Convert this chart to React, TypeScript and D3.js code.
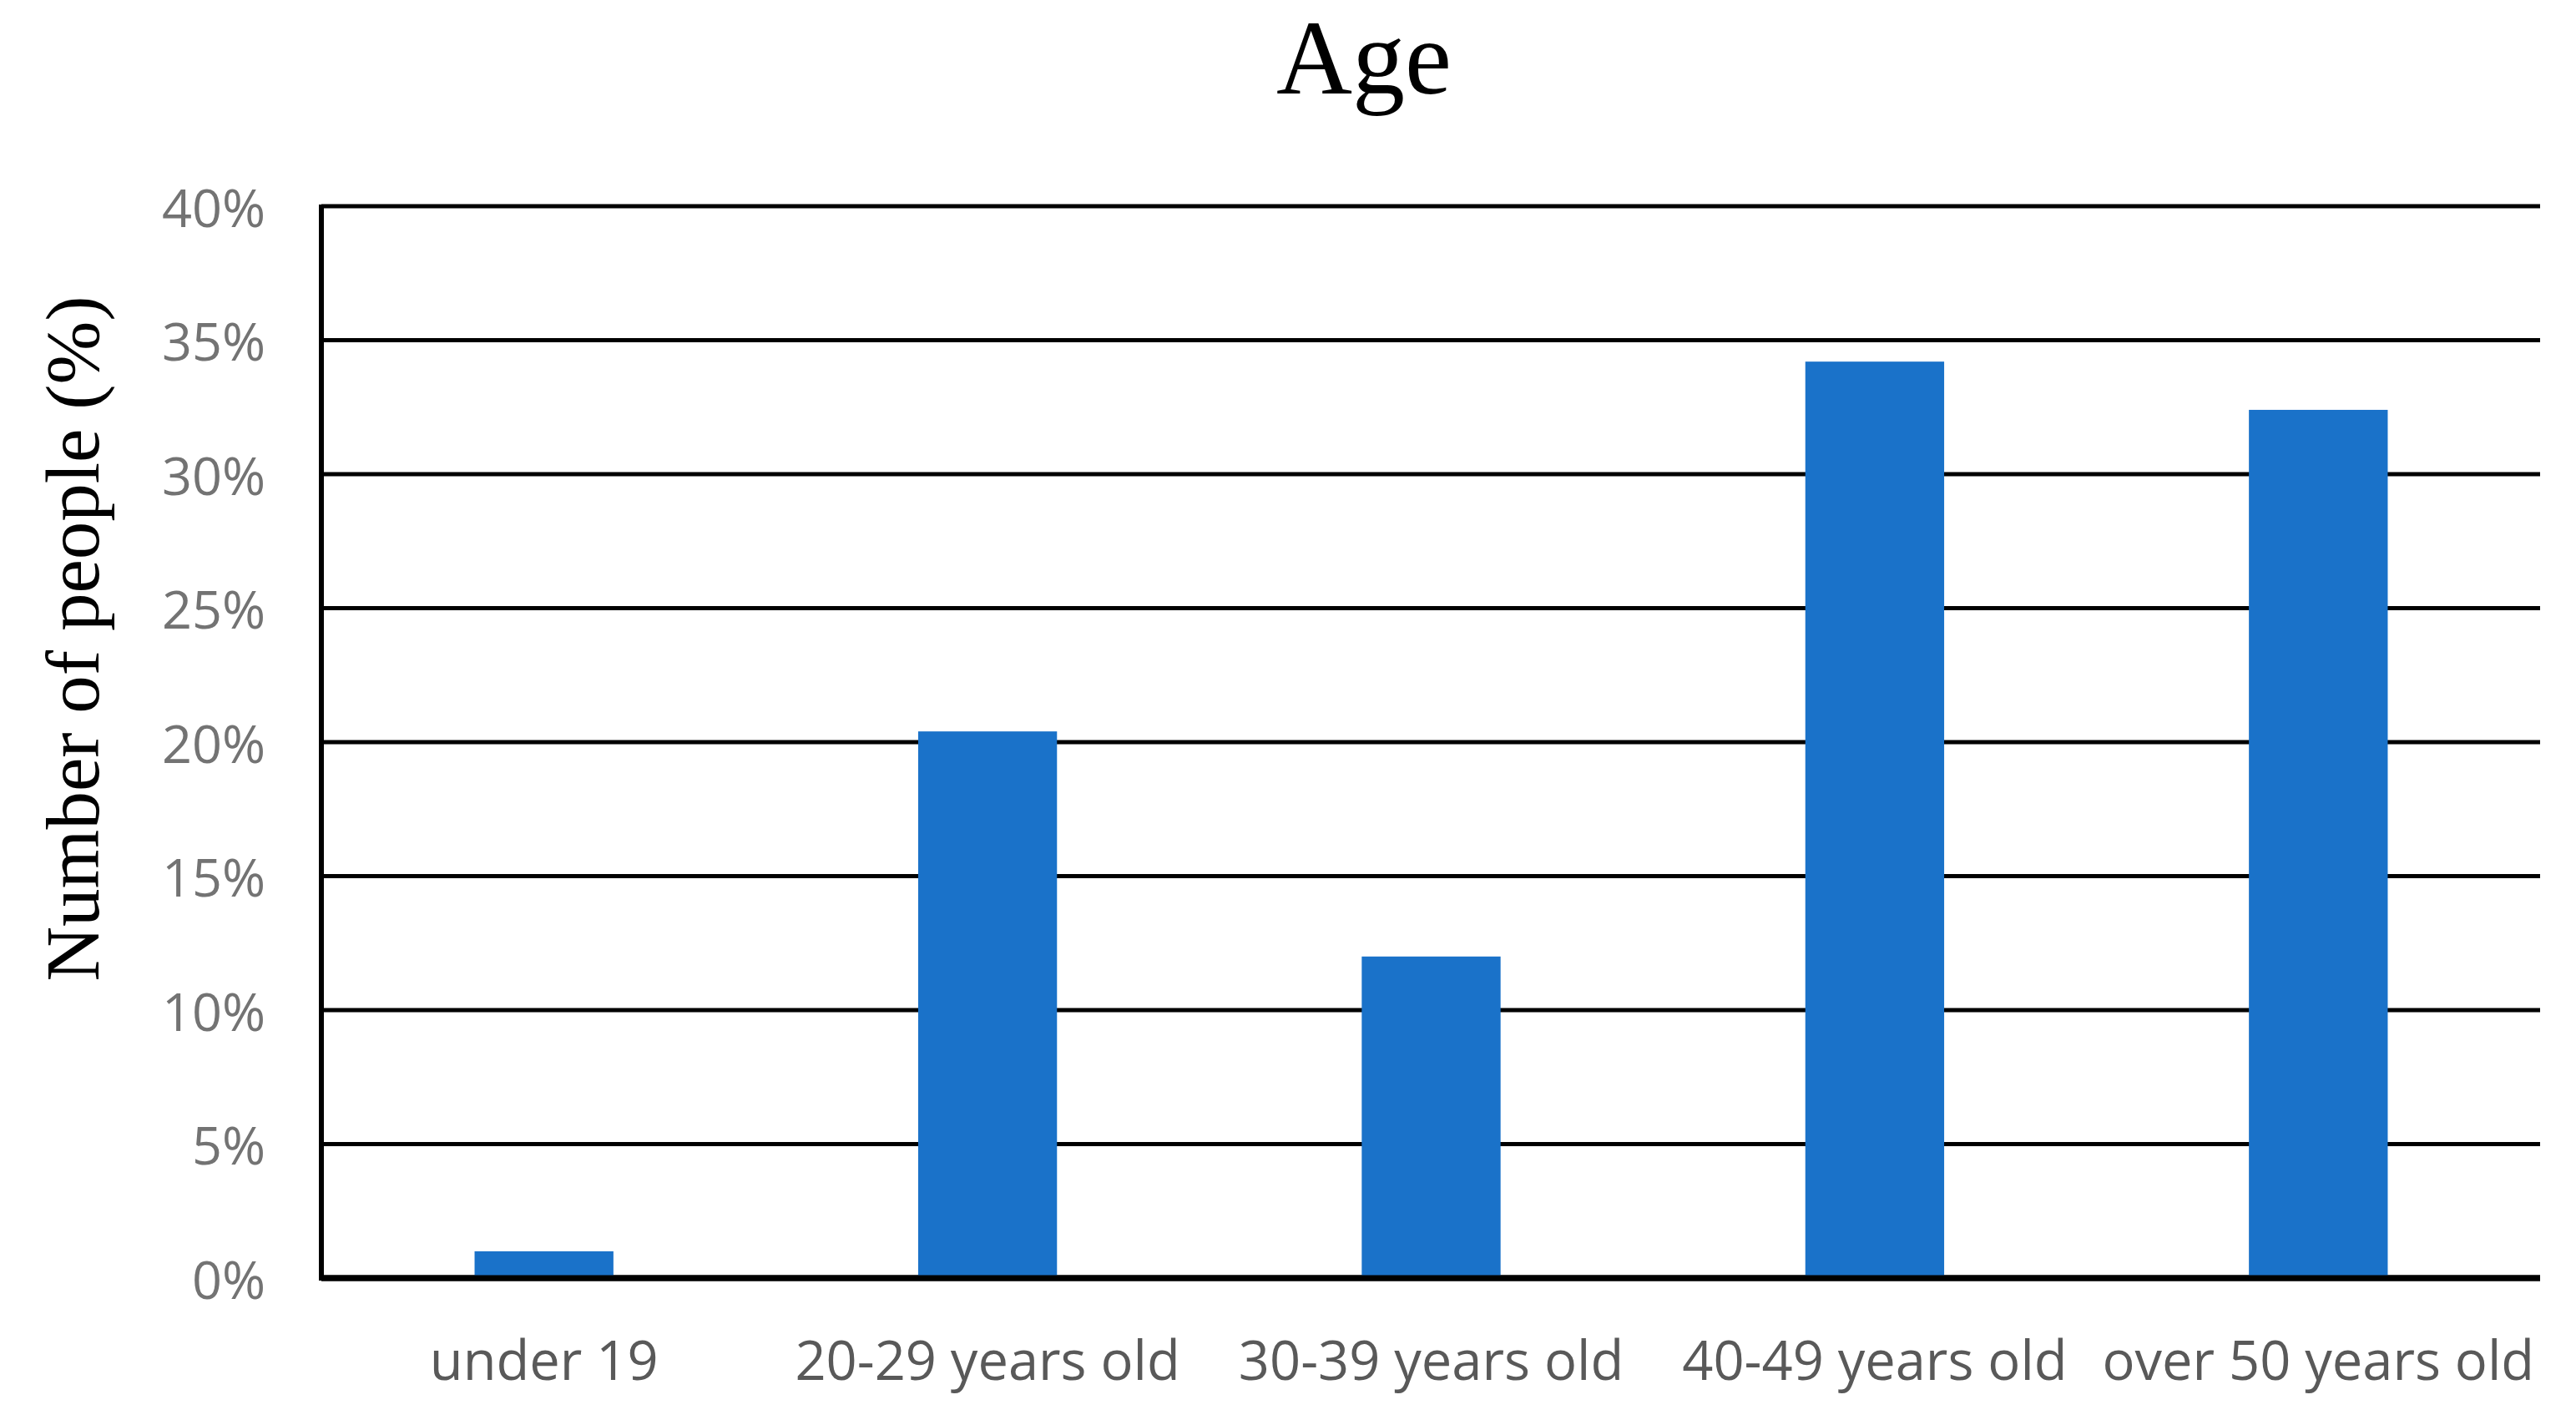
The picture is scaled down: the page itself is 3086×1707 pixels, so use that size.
import React from "react";
import * as d3 from "d3";

const categories = ["under 19", "20-29 years old", "30-39 years old", "40-49 years old", "over 50 years old"];
const values = [1.0, 20.4, 12.0, 34.2, 32.4];
const yTicks = [0, 5, 10, 15, 20, 25, 30, 35, 40];
const title = "Age";
const yTitle = "Number of people (%)";

const W = 3086;
const H = 1707;

export default function App() {
  const x = d3.scaleBand<string>().domain(categories).range([386, 3043]).paddingInner(0.687).paddingOuter(0.3435);
  const y = d3.scaleLinear().domain([0, 40]).range([1531, 247]);
  const fmt = (v: number) => `${v}%`;
  return (
    <svg width={W} height={H} style={{ position: "absolute", left: 0, top: 0, background: "#fff" }}>
      <rect x={0} y={0} width={W} height={H} fill="#fff" />
      <text x={1634} y={112} textAnchor="middle" fontFamily="'Liberation Serif', serif" fontSize={126} fill="#000">
        {title}
      </text>
      <text
        transform={`translate(118, ${765}) rotate(-90)`}
        textAnchor="middle"
        fontFamily="'Liberation Serif', serif"
        fontSize={91}
        fill="#000"
      >
        {yTitle}
      </text>
      {yTicks.map((t) => (
        <line
          key={"g" + t}
          x1={385}
          x2={3043}
          y1={y(t)}
          y2={y(t)}
          stroke="#000"
          strokeWidth={t === 0 ? 7 : 5}
        />
      ))}
      <line x1={385} x2={385} y1={y(40) - 2} y2={y(0) + 3} stroke="#000" strokeWidth={6} />
      {yTicks.map((t) => (
        <text
          key={"t" + t}
          x={318}
          y={y(t)}
          textAnchor="end"
          dominantBaseline="central"
          fontFamily="'Open Sans', sans-serif"
          fontSize={63}
          fill="#737373"
        >
          {fmt(t)}
        </text>
      ))}
      {categories.map((c, i) => (
        <rect
          key={"b" + c}
          x={x(c)}
          y={y(values[i])}
          width={x.bandwidth()}
          height={y(0) - y(values[i])}
          fill="#1a72c9"
        />
      ))}
      <line x1={385} x2={3043} y1={y(0)} y2={y(0)} stroke="#000" strokeWidth={7} />
      {categories.map((c) => (
        <text
          key={"x" + c}
          x={(x(c) as number) + x.bandwidth() / 2}
          y={1653}
          textAnchor="middle"
          fontFamily="'Open Sans', sans-serif"
          fontSize={65}
          fill="#595959"
        >
          {c}
        </text>
      ))}
    </svg>
  );
}
